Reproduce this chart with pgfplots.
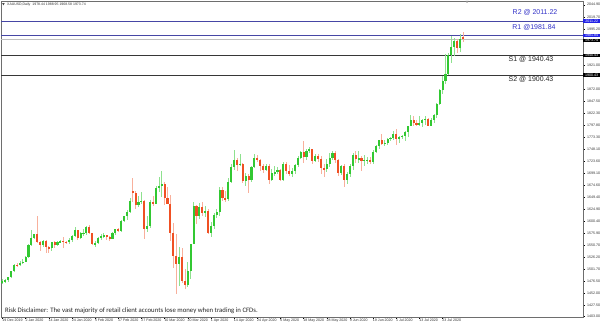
\documentclass[border=0pt]{standalone}
\usepackage{pgfplots}
\pgfplotsset{compat=1.18}
\usepackage{pgfplotstable}
\usepackage{fontspec}
\setmainfont{Liberation Sans}
\newfontfamily\carlito{Carlito}
\definecolor{bull}{RGB}{50,200,50}
\definecolor{bear}{RGB}{240,80,35}
\definecolor{rline}{RGB}{70,70,165}
\definecolor{rtext}{RGB}{50,50,200}
\definecolor{sline}{RGB}{55,55,55}
\definecolor{hlblue}{RGB}{35,35,230}
\definecolor{frame}{RGB}{110,110,110}

\pgfplotstableread{
i O H L C
0 1475 1481 1472 1478
1 1478 1482 1474 1479
2 1479 1487 1476 1486
3 1486 1499 1485 1498
4 1498 1513 1497 1511
5 1511 1515 1507 1510
6 1510 1519 1509 1515
7 1515 1524 1513 1517
8 1517 1529 1517 1528
9 1528 1553 1525 1552
10 1552 1582 1550 1566
11 1566 1575 1564 1574
12 1574 1611 1556 1557
13 1557 1560 1540 1552
14 1552 1562 1548 1561
15 1561 1562 1535 1547
16 1547 1550 1536 1545
17 1545 1558 1540 1557
18 1557 1559 1545 1552
19 1552 1561 1550 1557
20 1557 1562 1556 1560
21 1560 1568 1546 1558
22 1558 1561 1553 1557
23 1557 1566 1553 1563
24 1563 1573 1557 1571
25 1571 1588 1569 1582
26 1582 1583 1563 1567
27 1567 1578 1565 1576
28 1576 1584 1570 1577
29 1577 1590 1573 1589
30 1589 1592 1574 1576
31 1576 1577 1551 1553
32 1553 1561 1548 1556
33 1556 1568 1554 1566
34 1566 1574 1563 1570
35 1570 1576 1567 1572
36 1572 1573 1562 1568
37 1568 1571 1560 1565
38 1565 1578 1564 1576
39 1576 1585 1572 1584
40 1584 1586 1579 1581
41 1581 1604 1578 1601
42 1601 1612 1599 1611
43 1611 1624 1603 1619
44 1619 1649 1617 1643
45 1662 1689 1640 1658
46 1658 1662 1625 1634
47 1634 1652 1630 1641
48 1641 1660 1636 1643
49 1643 1644 1564 1585
50 1585 1611 1579 1591
51 1591 1645 1586 1640
52 1640 1652 1632 1636
53 1636 1673 1635 1669
54 1669 1692 1660 1673
55 1673 1703 1650 1677
56 1677 1682 1633 1649
57 1649 1671 1637 1635
58 1635 1654 1560 1576
59 1576 1596 1504 1530
60 1530 1575 1451 1513
61 1513 1548 1467 1527
62 1527 1546 1474 1478
63 1478 1502 1461 1470
64 1470 1517 1466 1498
65 1498 1553 1482 1553
66 1553 1640 1553 1632
67 1632 1634 1594 1612
68 1612 1637 1606 1630
69 1630 1640 1611 1617
70 1617 1631 1610 1622
71 1622 1625 1574 1577
72 1577 1598 1568 1590
73 1590 1617 1585 1613
74 1613 1626 1608 1619
75 1619 1671 1611 1664
76 1664 1671 1642 1648
77 1648 1663 1641 1646
78 1646 1690 1643 1682
79 1682 1718 1680 1712
80 1712 1747 1706 1726
81 1726 1731 1704 1716
82 1716 1739 1714 1718
83 1718 1720 1680 1683
84 1683 1699 1672 1694
85 1694 1698 1659 1685
86 1685 1714 1681 1712
87 1712 1738 1710 1730
88 1730 1737 1722 1727
89 1727 1729 1703 1713
90 1713 1718 1700 1706
91 1706 1718 1703 1713
92 1713 1718 1677 1686
93 1686 1707 1683 1700
94 1700 1713 1694 1701
95 1701 1711 1697 1706
96 1706 1708 1683 1685
97 1685 1722 1683 1718
98 1718 1723 1698 1703
99 1703 1716 1693 1697
100 1697 1710 1692 1703
101 1703 1717 1697 1715
102 1715 1735 1712 1731
103 1731 1745 1729 1743
104 1743 1765 1721 1732
105 1732 1748 1726 1745
106 1745 1753 1740 1748
107 1748 1749 1717 1725
108 1725 1738 1723 1735
109 1735 1738 1723 1728
110 1728 1735 1698 1709
111 1709 1717 1692 1708
112 1708 1728 1701 1718
113 1718 1740 1711 1730
114 1730 1745 1726 1740
115 1740 1745 1721 1727
116 1727 1729 1693 1699
117 1699 1716 1695 1714
118 1714 1717 1670 1685
119 1685 1701 1677 1698
120 1698 1719 1692 1714
121 1714 1740 1706 1737
122 1737 1745 1720 1728
123 1728 1744 1721 1730
124 1730 1734 1704 1725
125 1725 1736 1713 1726
126 1726 1733 1718 1727
127 1727 1732 1717 1722
128 1722 1746 1719 1743
129 1743 1756 1740 1754
130 1754 1768 1749 1767
131 1767 1779 1757 1760
132 1760 1768 1755 1762
133 1762 1772 1758 1770
134 1770 1774 1765 1772
135 1772 1786 1768 1780
136 1780 1789 1757 1769
137 1769 1775 1761 1774
138 1774 1777 1769 1775
139 1775 1786 1765 1783
140 1783 1797 1774 1795
141 1795 1818 1795 1809
142 1809 1817 1796 1802
143 1802 1809 1795 1798
144 1798 1817 1797 1802
145 1802 1810 1794 1809
146 1809 1816 1799 1810
147 1810 1812 1795 1797
148 1797 1813 1797 1808
149 1808 1821 1803 1818
150 1818 1844 1813 1841
151 1841 1872 1840 1870
152 1870 1898 1861 1888
153 1888 1944 1883 1902
154 1902 1945 1900 1942
155 1942 1981 1925 1958
156 1958 1977 1940 1970
157 1970 1975 1945 1957
158 1957 1984 1948 1975
159 1978.44 1988.95 1968.58 1973.74
}\gold

\begin{document}
\begin{tikzpicture}[x=1bp,y=1bp]
\path[use as bounding box, fill=white] (0,0) rectangle (602,324);
\begin{axis}[
  at={(1bp,7bp)}, anchor=south west,
  width=582bp, height=316bp, scale only axis,
  xmin=-0.5, xmax=200.5, ymin=1404, ymax=2052.5,
  axis line style={draw=frame, line width=0.5bp},
  ytick pos=right, yticklabel pos=right,
  xtick pos=bottom,
  tick align=outside, major tick length=1.5bp,
  tick style={draw=black, line width=0.4bp},
  ticklabel style={font=\fontsize{3.6}{4}\selectfont, text=black!80},
  ytick={2044.9,2019.7,1995.2,1921.0,1872.0,1847.5,1822.3,1797.8,1773.3,1748.1,1723.6,1699.1,1674.6,1649.4,1624.9,1600.4,1575.9,1550.7,1526.2,1501.7,1476.5,1452.0,1427.5,1405.0},
  yticklabels={2044.90,2019.70,1995.20,1921.00,1872.00,1847.50,1822.30,1797.80,1773.30,1748.10,1723.60,1699.10,1674.60,1649.40,1624.90,1600.40,1575.90,1550.70,1526.20,1501.70,1476.50,1452.00,1427.50,1403.00},
  yticklabel style={anchor=west, xshift=-1bp},
  xtick={0,8,...,152},
  xticklabels={19 Dec 2019, 2 Jan 2020, 14 Jan 2020, 24 Jan 2020, 5 Feb 2020, 17 Feb 2020, 27 Feb 2020, 10 Mar 2020, 20 Mar 2020, 1 Apr 2020, 14 Apr 2020, 24 Apr 2020, 6 May 2020, 18 May 2020, 28 May 2020, 9 Jun 2020, 19 Jun 2020, 1 Jul 2020, 13 Jul 2020, 23 Jul 2020},
  xticklabel style={anchor=north west, inner sep=0.3bp, xshift=-0.6bp, yshift=0.3bp},
]
% current price line
\addplot[black!25, line width=0.6bp, forget plot] coordinates {(-0.5,1973.74) (200.5,1973.74)};
% resistance / support
\addplot[rline, line width=1.1bp, forget plot] coordinates {(-0.5,2011.22) (200.5,2011.22)};
\addplot[rline, line width=1.1bp, forget plot] coordinates {(-0.5,1981.84) (200.5,1981.84)};
\addplot[sline, line width=1.1bp, forget plot] coordinates {(-0.5,1940.43) (200.5,1940.43)};
\addplot[sline, line width=1.1bp, forget plot] coordinates {(-0.5,1900.43) (200.5,1900.43)};
% wicks
\addplot[draw=none, mark=none, forget plot,
  error bars/.cd, y dir=both, y explicit, error mark=none,
  error bar style={draw=bull!55!white, line width=0.6bp}]
  table[x=i, y expr={\thisrow{C}>=\thisrow{O} ? 0.5*(\thisrow{H}+\thisrow{L}) : nan},
        y error expr={0.5*(\thisrow{H}-\thisrow{L})}] {\gold};
\addplot[draw=none, mark=none, forget plot,
  error bars/.cd, y dir=both, y explicit, error mark=none,
  error bar style={draw=bear!45!white, line width=0.6bp}]
  table[x=i, y expr={\thisrow{C}<\thisrow{O} ? 0.5*(\thisrow{H}+\thisrow{L}) : nan},
        y error expr={0.5*(\thisrow{H}-\thisrow{L})}] {\gold};
% bodies
\addplot[draw=none, mark=none, forget plot,
  error bars/.cd, y dir=both, y explicit, error mark=none,
  error bar style={draw=bull, line width=2.1bp}]
  table[x=i, y expr={\thisrow{C}>=\thisrow{O} ? 0.5*(\thisrow{O}+\thisrow{C}) : nan},
        y error expr={0.5*abs(\thisrow{C}-\thisrow{O})}] {\gold};
\addplot[draw=none, mark=none, forget plot,
  error bars/.cd, y dir=both, y explicit, error mark=none,
  error bar style={draw=bear, line width=2.1bp}]
  table[x=i, y expr={\thisrow{C}<\thisrow{O} ? 0.5*(\thisrow{O}+\thisrow{C}) : nan},
        y error expr={0.5*abs(\thisrow{C}-\thisrow{O})}] {\gold};
\coordinate (r2) at (axis cs:200.5,2011.22);
\coordinate (r1) at (axis cs:200.5,1981.84);
\coordinate (cp) at (axis cs:200.5,1973.74);
\coordinate (s1) at (axis cs:200.5,1940.43);
\coordinate (s2) at (axis cs:200.5,1900.43);
\end{axis}
% price tags on the right scale
\tikzset{tag/.style={anchor=west, inner xsep=1bp, inner ysep=0.6bp, text=white,
  font=\fontsize{3.6}{4}\selectfont, minimum width=17bp}}
\node[tag, fill=hlblue] at (r2) {2011.22};
\node[tag, fill=black] at ([yshift=-1.2bp]cp) {1973.74};
\node[tag, fill=hlblue] at (r1) {1981.84};
\node[tag, fill=black] at (s1) {1940.43};
\node[tag, fill=black] at (s2) {1900.43};
% level labels
\node[text=rtext, font=\fontsize{7}{8}\selectfont] at (535,311.5) {R2 @ 2011.22};
\node[text=rtext, font=\fontsize{7}{8}\selectfont] at (534,297) {R1 @1981.84};
\node[text=black!85, font=\fontsize{7}{8}\selectfont] at (531,265) {S1 @ 1940.43};
\node[text=black!85, font=\fontsize{7}{8}\selectfont] at (531,245) {S2 @ 1900.43};
% header
\fill[black!70] (2.2,320.8) -- (4.6,320.8) -- (3.4,318.6) -- cycle;
\node[anchor=west, inner sep=0pt, font=\fontsize{3.5}{4}\selectfont, text=black!80] at (7,319.5) {XAUUSD,Daily\ \ 1978.44 1988.95 1968.58 1973.74};
\fill[black!45] (465.5,323) -- (468.5,323) -- (467,321) -- cycle;
% disclaimer
\node[anchor=west, inner sep=0pt, font=\carlito\fontsize{6.8}{8}\selectfont, text=black!85] at (5,13.5) {Risk Disclaimer: The vast majority of retail client accounts lose money when trading in CFDs.};
\end{tikzpicture}
\end{document}
